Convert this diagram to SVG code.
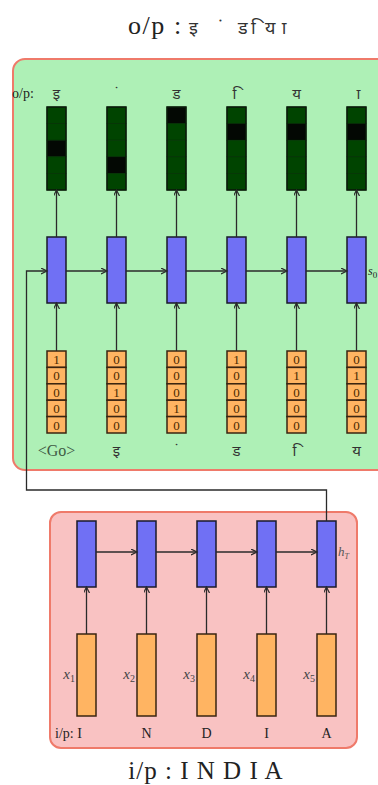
<svg xmlns="http://www.w3.org/2000/svg" width="378" height="785" viewBox="0 0 378 785">
<style>
.serif{font-family:"Liberation Serif","DejaVu Serif",serif;fill:#222}
.deva{font-family:"Noto Sans Devanagari","Lohit Devanagari","Noto Sans","Liberation Serif",sans-serif;fill:#333}
.blue{fill:#7070f4;stroke:#1a1a2a;stroke-width:1.5}
.org{fill:#ffb462;stroke:#3a2410;stroke-width:1.5}
.gcell{fill:#004400;stroke:#002a00;stroke-width:0.6}
.kcell{fill:#030803;stroke:#002a00;stroke-width:0.6}
.gbar{fill:none;stroke:#0a1a0a;stroke-width:1.5}
.conn{fill:none;stroke:#2a2a2a;stroke-width:1.3}
.dig{font-family:"Liberation Serif",serif;font-size:13px;fill:#4a2a00;text-anchor:middle}
</style>
<defs>
<marker id="ah" markerWidth="8" markerHeight="8" refX="6" refY="3" orient="auto" markerUnits="userSpaceOnUse">
<path d="M0,0 L6,3 L0,6" fill="none" stroke="#2a2a2a" stroke-width="1.2"/>
</marker>
</defs>
<text class="serif" y="34" font-size="26"><tspan x="128" letter-spacing="1.5">o/p</tspan><tspan x="174">:</tspan><tspan class="deva" font-size="18" x="189">इ</tspan><tspan class="deva" font-size="18" x="218">&#160;ं</tspan><tspan class="deva" font-size="18" x="238">ड</tspan><tspan class="deva" font-size="18" x="251">&#160;ि</tspan><tspan class="deva" font-size="18" x="265">य</tspan><tspan class="deva" font-size="18" x="277">&#160;ा</tspan></text>
<g id="decoder">
<rect x="13" y="59" width="380" height="411" rx="12" fill="#aef0b6" stroke="#ef7a6a" stroke-width="2"/>
</g>
<g id="encoder">
<rect x="50" y="512" width="307" height="236" rx="11" fill="#f9c2c2" stroke="#ef7a6a" stroke-width="2"/>
</g>
<text class="serif" x="12" y="98" font-size="14">o/p:</text>
<g id="outputs">
<g id="out1"><rect class="gcell" x="47" y="107" width="19" height="16.6"/><rect class="gcell" x="47" y="123.6" width="19" height="16.6"/><rect class="kcell" x="47" y="140.2" width="19" height="16.6"/><rect class="gcell" x="47" y="156.8" width="19" height="16.6"/><rect class="gcell" x="47" y="173.4" width="19" height="16.6"/><rect class="gbar" x="47" y="107" width="19" height="83"/></g>
<g id="out2"><rect class="gcell" x="107" y="107" width="19" height="16.6"/><rect class="gcell" x="107" y="123.6" width="19" height="16.6"/><rect class="gcell" x="107" y="140.2" width="19" height="16.6"/><rect class="kcell" x="107" y="156.8" width="19" height="16.6"/><rect class="gcell" x="107" y="173.4" width="19" height="16.6"/><rect class="gbar" x="107" y="107" width="19" height="83"/></g>
<g id="out3"><rect class="kcell" x="167" y="107" width="19" height="16.6"/><rect class="gcell" x="167" y="123.6" width="19" height="16.6"/><rect class="gcell" x="167" y="140.2" width="19" height="16.6"/><rect class="gcell" x="167" y="156.8" width="19" height="16.6"/><rect class="gcell" x="167" y="173.4" width="19" height="16.6"/><rect class="gbar" x="167" y="107" width="19" height="83"/></g>
<g id="out4"><rect class="gcell" x="227" y="107" width="19" height="16.6"/><rect class="kcell" x="227" y="123.6" width="19" height="16.6"/><rect class="gcell" x="227" y="140.2" width="19" height="16.6"/><rect class="gcell" x="227" y="156.8" width="19" height="16.6"/><rect class="gcell" x="227" y="173.4" width="19" height="16.6"/><rect class="gbar" x="227" y="107" width="19" height="83"/></g>
<g id="out5"><rect class="gcell" x="287" y="107" width="19" height="16.6"/><rect class="kcell" x="287" y="123.6" width="19" height="16.6"/><rect class="gcell" x="287" y="140.2" width="19" height="16.6"/><rect class="gcell" x="287" y="156.8" width="19" height="16.6"/><rect class="gcell" x="287" y="173.4" width="19" height="16.6"/><rect class="gbar" x="287" y="107" width="19" height="83"/></g>
<g id="out6"><rect class="gcell" x="347" y="107" width="19" height="16.6"/><rect class="kcell" x="347" y="123.6" width="19" height="16.6"/><rect class="gcell" x="347" y="140.2" width="19" height="16.6"/><rect class="gcell" x="347" y="156.8" width="19" height="16.6"/><rect class="gcell" x="347" y="173.4" width="19" height="16.6"/><rect class="gbar" x="347" y="107" width="19" height="83"/></g>
</g>
<g id="outlabels" class="deva" font-size="15" text-anchor="middle">
<text x="56.5" y="99">इ</text><text x="116.5" y="99">&#160;ं</text><text x="176.5" y="99">ड</text><text x="236.5" y="99">&#160;ि</text><text x="296.5" y="99">य</text><text x="356.5" y="99">&#160;ा</text>
</g>
<g id="dec-states">
<rect id="s1" class="blue" x="47" y="237" width="19" height="66"/>
<rect id="s2" class="blue" x="107" y="237" width="19" height="66"/>
<rect id="s3" class="blue" x="167" y="237" width="19" height="66"/>
<rect id="s4" class="blue" x="227" y="237" width="19" height="66"/>
<rect id="s5" class="blue" x="287" y="237" width="19" height="66"/>
<rect id="s6" class="blue" x="347" y="237" width="19" height="66"/>
</g>
<text class="serif" x="368" y="275" font-size="12" font-style="italic">s<tspan font-size="9" dy="3" font-style="normal">0</tspan></text>
<g id="onehots">
<g id="in1"><rect class="org" x="47" y="351" width="19" height="16.4"/><rect class="org" x="47" y="367.4" width="19" height="16.4"/><rect class="org" x="47" y="383.8" width="19" height="16.4"/><rect class="org" x="47" y="400.2" width="19" height="16.4"/><rect class="org" x="47" y="416.6" width="19" height="16.4"/>
<text class="dig" x="56.5" y="364">1</text><text class="dig" x="56.5" y="380.4">0</text><text class="dig" x="56.5" y="396.8">0</text><text class="dig" x="56.5" y="413.2">0</text><text class="dig" x="56.5" y="429.6">0</text></g>
<g id="in2"><rect class="org" x="107" y="351" width="19" height="16.4"/><rect class="org" x="107" y="367.4" width="19" height="16.4"/><rect class="org" x="107" y="383.8" width="19" height="16.4"/><rect class="org" x="107" y="400.2" width="19" height="16.4"/><rect class="org" x="107" y="416.6" width="19" height="16.4"/>
<text class="dig" x="116.5" y="364">0</text><text class="dig" x="116.5" y="380.4">0</text><text class="dig" x="116.5" y="396.8">1</text><text class="dig" x="116.5" y="413.2">0</text><text class="dig" x="116.5" y="429.6">0</text></g>
<g id="in3"><rect class="org" x="167" y="351" width="19" height="16.4"/><rect class="org" x="167" y="367.4" width="19" height="16.4"/><rect class="org" x="167" y="383.8" width="19" height="16.4"/><rect class="org" x="167" y="400.2" width="19" height="16.4"/><rect class="org" x="167" y="416.6" width="19" height="16.4"/>
<text class="dig" x="176.5" y="364">0</text><text class="dig" x="176.5" y="380.4">0</text><text class="dig" x="176.5" y="396.8">0</text><text class="dig" x="176.5" y="413.2">1</text><text class="dig" x="176.5" y="429.6">0</text></g>
<g id="in4"><rect class="org" x="227" y="351" width="19" height="16.4"/><rect class="org" x="227" y="367.4" width="19" height="16.4"/><rect class="org" x="227" y="383.8" width="19" height="16.4"/><rect class="org" x="227" y="400.2" width="19" height="16.4"/><rect class="org" x="227" y="416.6" width="19" height="16.4"/>
<text class="dig" x="236.5" y="364">1</text><text class="dig" x="236.5" y="380.4">0</text><text class="dig" x="236.5" y="396.8">0</text><text class="dig" x="236.5" y="413.2">0</text><text class="dig" x="236.5" y="429.6">0</text></g>
<g id="in5"><rect class="org" x="287" y="351" width="19" height="16.4"/><rect class="org" x="287" y="367.4" width="19" height="16.4"/><rect class="org" x="287" y="383.8" width="19" height="16.4"/><rect class="org" x="287" y="400.2" width="19" height="16.4"/><rect class="org" x="287" y="416.6" width="19" height="16.4"/>
<text class="dig" x="296.5" y="364">0</text><text class="dig" x="296.5" y="380.4">1</text><text class="dig" x="296.5" y="396.8">0</text><text class="dig" x="296.5" y="413.2">0</text><text class="dig" x="296.5" y="429.6">0</text></g>
<g id="in6"><rect class="org" x="347" y="351" width="19" height="16.4"/><rect class="org" x="347" y="367.4" width="19" height="16.4"/><rect class="org" x="347" y="383.8" width="19" height="16.4"/><rect class="org" x="347" y="400.2" width="19" height="16.4"/><rect class="org" x="347" y="416.6" width="19" height="16.4"/>
<text class="dig" x="356.5" y="364">0</text><text class="dig" x="356.5" y="380.4">1</text><text class="dig" x="356.5" y="396.8">0</text><text class="dig" x="356.5" y="413.2">0</text><text class="dig" x="356.5" y="429.6">0</text></g>
</g>
<text class="serif" x="56.5" y="456" font-size="16" text-anchor="middle" style="fill:#3f5a45">&lt;Go&gt;</text>
<g id="inlabels" class="deva" font-size="15" text-anchor="middle">
<text x="116.5" y="456">इ</text><text x="176.5" y="456">&#160;ं</text><text x="236.5" y="456">ड</text><text x="296.5" y="456">&#160;ि</text><text x="356.5" y="456">य</text>
</g>
<g id="enc-states">
<rect id="h1" class="blue" x="77" y="521" width="19" height="66"/>
<rect id="h2" class="blue" x="137" y="521" width="19" height="66"/>
<rect id="h3" class="blue" x="197" y="521" width="19" height="66"/>
<rect id="h4" class="blue" x="257" y="521" width="19" height="66"/>
<rect id="h5" class="blue" x="317" y="521" width="19" height="66"/>
</g>
<text class="serif" x="338" y="556" font-size="13" font-style="italic" style="fill:#555">h<tspan font-size="8" dy="3">T</tspan></text>
<g id="enc-inputs">
<rect id="x1" class="org" x="77" y="634" width="19" height="82"/>
<rect id="x2" class="org" x="137" y="634" width="19" height="82"/>
<rect id="x3" class="org" x="197" y="634" width="19" height="82"/>
<rect id="x4" class="org" x="257" y="634" width="19" height="82"/>
<rect id="x5" class="org" x="317" y="634" width="19" height="82"/>
</g>
<g class="serif" font-size="15" font-style="italic" text-anchor="end" style="fill:#444">
<text x="75" y="679">x<tspan font-size="10" dy="3" font-style="normal">1</tspan></text>
<text x="135" y="679">x<tspan font-size="10" dy="3" font-style="normal">2</tspan></text>
<text x="195" y="679">x<tspan font-size="10" dy="3" font-style="normal">3</tspan></text>
<text x="255" y="679">x<tspan font-size="10" dy="3" font-style="normal">4</tspan></text>
<text x="315" y="679">x<tspan font-size="10" dy="3" font-style="normal">5</tspan></text>
</g>
<g class="serif" font-size="14">
<text x="55" y="738">i/p: I</text>
<text x="146.5" y="738" text-anchor="middle">N</text>
<text x="206.5" y="738" text-anchor="middle">D</text>
<text x="266.5" y="738" text-anchor="middle">I</text>
<text x="326.5" y="738" text-anchor="middle">A</text>
</g>
<text class="serif" x="206" y="779" font-size="25" text-anchor="middle" letter-spacing="1">i/p : I N D I A</text>
<g id="connectors" class="conn">
<path d="M56.5,237 V190" marker-end="url(#ah)"/>
<path d="M116.5,237 V190" marker-end="url(#ah)"/>
<path d="M176.5,237 V190" marker-end="url(#ah)"/>
<path d="M236.5,237 V190" marker-end="url(#ah)"/>
<path d="M296.5,237 V190" marker-end="url(#ah)"/>
<path d="M356.5,237 V190" marker-end="url(#ah)"/>
<path d="M56.5,351 V303" marker-end="url(#ah)"/>
<path d="M116.5,351 V303" marker-end="url(#ah)"/>
<path d="M176.5,351 V303" marker-end="url(#ah)"/>
<path d="M236.5,351 V303" marker-end="url(#ah)"/>
<path d="M296.5,351 V303" marker-end="url(#ah)"/>
<path d="M356.5,351 V303" marker-end="url(#ah)"/>
<path d="M66,271 H107" marker-end="url(#ah)"/>
<path d="M126,271 H167" marker-end="url(#ah)"/>
<path d="M186,271 H227" marker-end="url(#ah)"/>
<path d="M246,271 H287" marker-end="url(#ah)"/>
<path d="M306,271 H347" marker-end="url(#ah)"/>
<path d="M326.5,521 V490 H26.5 V271 H47" marker-end="url(#ah)"/>
<path d="M96,552 H137" marker-end="url(#ah)"/>
<path d="M156,552 H197" marker-end="url(#ah)"/>
<path d="M216,552 H257" marker-end="url(#ah)"/>
<path d="M276,552 H317" marker-end="url(#ah)"/>
<path d="M86.5,634 V587" marker-end="url(#ah)"/>
<path d="M146.5,634 V587" marker-end="url(#ah)"/>
<path d="M206.5,634 V587" marker-end="url(#ah)"/>
<path d="M266.5,634 V587" marker-end="url(#ah)"/>
<path d="M326.5,634 V587" marker-end="url(#ah)"/>
</g>
</svg>
